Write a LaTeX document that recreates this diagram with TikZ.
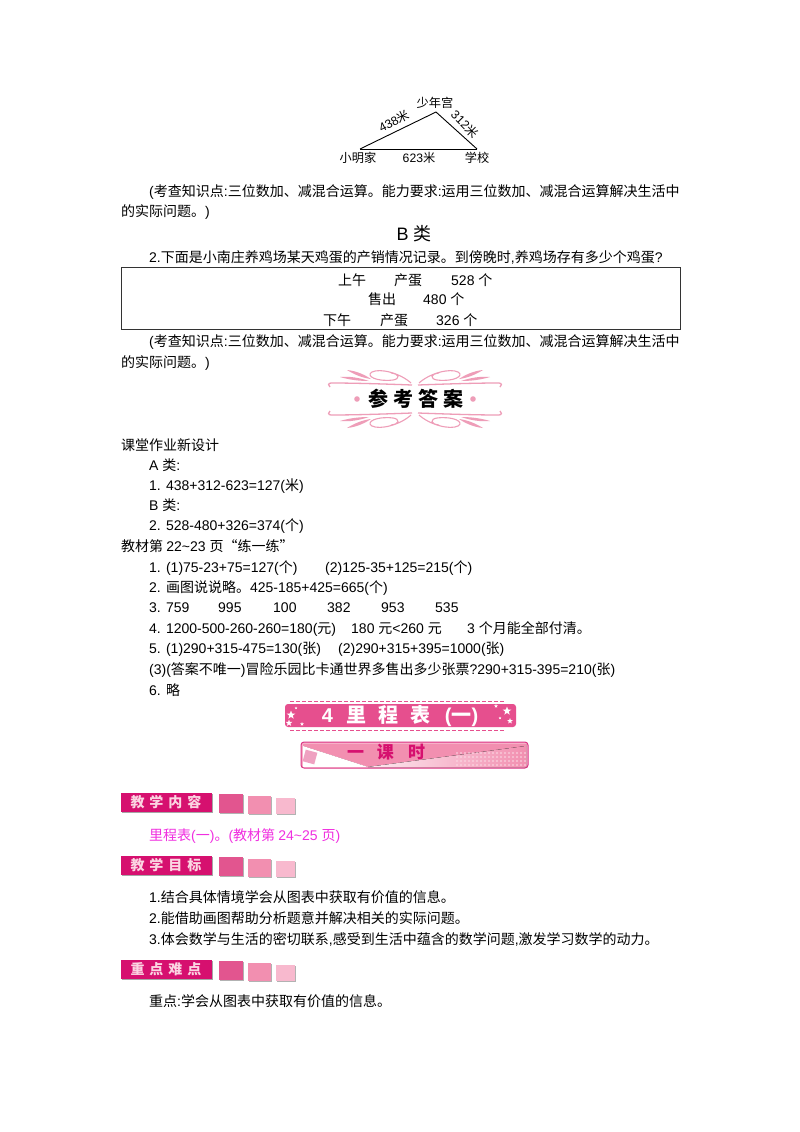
\documentclass[tikz,border=0pt]{standalone}
\usepackage{fontspec}
\usetikzlibrary{shapes.geometric}
\setmainfont{Liberation Sans}
\newfontfamily\cjk{Noto Sans CJK SC}
\newfontfamily\latn{Liberation Sans}
% switch to the CJK face on CJK characters
\XeTeXinterchartokenstate=1
\newXeTeXintercharclass\cjkclass
\newcount\cjkcode
\cjkcode="3000
\loop\ifnum\cjkcode<"A000 \XeTeXcharclass\cjkcode=\cjkclass \advance\cjkcode by 1 \repeat
\cjkcode="FF00
\loop\ifnum\cjkcode<"FFF0 \XeTeXcharclass\cjkcode=\cjkclass \advance\cjkcode by 1 \repeat
\XeTeXcharclass"201C=\cjkclass
\XeTeXcharclass"201D=\cjkclass
\XeTeXinterchartoks 0 \cjkclass={\cjk}
\XeTeXinterchartoks 4095 \cjkclass={\cjk}
\XeTeXinterchartoks \cjkclass 0 ={\latn}
\XeTeXinterchartoks 4095 0 ={\latn}
\definecolor{deeppink}{HTML}{D6106F}
\definecolor{rosepink}{HTML}{E2558F}
\definecolor{midpink}{HTML}{F28FB0}
\definecolor{palepink}{HTML}{F8B9CE}
\definecolor{bannerpink}{HTML}{E64F8E}
\definecolor{swirlpink}{HTML}{EE9DB8}
\definecolor{violetpink}{HTML}{F02FE0}

\begin{document}
\begin{tikzpicture}[x=1pt,y=-1pt,
    txt/.style = {anchor=west, inner sep=0pt, text height=12pt, text depth=2pt,
        font=\fontsize{14}{16}\selectfont},
    mid/.style = {txt, anchor=center},
    small/.style = {inner sep=0pt, font=\fontsize{12.2}{14}\selectfont},
    badge/.style = {inner sep=0pt, text=palepink!60!white, font=\fontsize{14}{16}\selectfont\bfseries},
    starry/.style = {star, star points=5, star point ratio=2.4, fill=white, inner sep=0pt}]
    \useasboundingbox (0,0) rectangle (800,1132);
    \fill[white] (0,0) rectangle (800,1132);

    % triangle
    \coordinate (home) at (360,149);
    \coordinate (palace) at (436,112);
    \coordinate (school) at (477,149);
    \node[small] (palaceText) at (435,103) {少年宫};
    \node[small] (homeText) at (358,158) {小明家};
    \node[small] (baseText) at (419,158) {623米};
    \node[small] (schoolText) at (477,158) {学校};
    \node[small,rotate=27] (leftText) at (394,121) {438米};
    \node[small,rotate=-45] (rightText) at (465,124) {312米};
    \draw[line width=0.9pt] (home) -- (palace);
    \draw[line width=0.9pt] (palace) -- (school);
    \draw[line width=0.9pt] (school) -- (home);

    \node[txt] (noteA) at (149,191) {(考查知识点:三位数加、减混合运算。能力要求:运用三位数加、减混合运算解决生活中};
    \node[txt] (noteB) at (121,211) {的实际问题。)};
    \node[mid,font=\fontsize{18}{20}\selectfont] (classB) at (414,235) {B 类};
    \node[txt] (task) at (149,257) {2.下面是小南庄养鸡场某天鸡蛋的产销情况记录。到傍晚时,养鸡场存有多少个鸡蛋?};

    % record table
    \draw[line width=0.8pt,black!80] (121,267) rectangle (680,329);
    \node[txt] (am) at (338,280) {上午};
    \node[txt] (amEgg) at (394,280) {产蛋};
    \node[txt] (amNum) at (451,280) {528 个};
    \node[txt] (sold) at (368,299) {售出};
    \node[txt] (soldNum) at (423,299) {480 个};
    \node[txt] (pm) at (323,320) {下午};
    \node[txt] (pmEgg) at (380,320) {产蛋};
    \node[txt] (pmNum) at (436,320) {326 个};

    \node[txt] (noteC) at (149,341) {(考查知识点:三位数加、减混合运算。能力要求:运用三位数加、减混合运算解决生活中};
    \node[txt] (noteD) at (121,362) {的实际问题。)};

    % answer banner
    \foreach \sx/\sy in {1/1,-1/1,1/-1,-1/-1} {
        \begin{scope}[shift={(415,399)},xscale=\sx,yscale=\sy,swirlpink]
            \draw[line width=1.3pt] (-3,-14) .. controls (-30,-15) and (-60,-16) .. (-84,-16) .. controls (-87,-16) and (-87,-13) .. (-85,-12);
            \draw[line width=1.1pt] (-4,-16) .. controls (-15,-26) and (-35,-31) .. (-43,-27) .. controls (-50,-23) and (-38,-17) .. (-22,-19) .. controls (-15,-20) and (-15,-25) .. (-24,-26);
            \fill (-68,-29) .. controls (-58,-28) and (-50,-24) .. (-44,-20) .. controls (-52,-21) and (-60,-24) .. cycle;
            \fill (-75,-22) .. controls (-65,-23) and (-55,-21) .. (-46,-18) .. controls (-55,-18) and (-65,-19) .. cycle;
        \end{scope}
    }
    \fill[swirlpink] (357,399) circle (2.8);
    \fill[swirlpink] (473,399) circle (2.8);
    \node[mid,font=\fontsize{20}{22}\selectfont\bfseries] (answer) at (416,401) {参\hspace{5pt}考\hspace{5pt}答\hspace{5pt}案};

    \node[txt] (design) at (121,445) {课堂作业新设计};
    \node[txt] (ansA) at (149,465) {A 类:};
    \node[txt] (ansOne) at (149,485) {1. 438+312-623=127(米)};
    \node[txt] (ansB) at (149,505) {B 类:};
    \node[txt] (ansTwo) at (149,525) {2. 528-480+326=374(个)};
    \node[txt] (book) at (121,546) {教材第 22\textasciitilde23 页“练一练”};
    \node[txt] (bookOne) at (149,567) {1. (1)75-23+75=127(个)};
    \node[txt] (bookOneB) at (325,567) {(2)125-35+125=215(个)};
    \node[txt] (bookTwo) at (149,587) {2. 画图说说略。425-185+425=665(个)};
    \node[txt] (bookThree) at (149,607) {3. 759};
    \node[txt] (numA) at (218,607) {995};
    \node[txt] (numB) at (273,607) {100};
    \node[txt] (numC) at (327,607) {382};
    \node[txt] (numD) at (381,607) {953};
    \node[txt] (numE) at (435,607) {535};
    \node[txt] (bookFour) at (149,628) {4. 1200-500-260-260=180(元)};
    \node[txt] (bookFourB) at (351,628) {180 元<260 元};
    \node[txt] (bookFourC) at (467,628) {3 个月能全部付清。};
    \node[txt] (bookFive) at (149,648) {5. (1)290+315-475=130(张)};
    \node[txt] (bookFiveB) at (338,648) {(2)290+315+395=1000(张)};
    \node[txt] (bookFiveC) at (149,669) {(3)(答案不唯一)冒险乐园比卡通世界多售出多少张票?290+315-395=210(张)};
    \node[txt] (bookSix) at (149,690) {6. 略};

    % unit title
    \fill[bannerpink,rounded corners=3pt] (285,704) rectangle (516,727);
    \draw[bannerpink,line width=1pt,dash pattern=on 4pt off 2pt] (290,701) -- (505,701);
    \draw[bannerpink,line width=1pt,dash pattern=on 4pt off 2pt] (290,730) -- (505,730);
    \foreach \i/\px/\py/\size in {1/291/715/9,2/289/723/7,3/302/724/4,4/296/708/3,5/507/711/9,6/510/721/6,6b/496/706/4,7/500/718/3} {
        \node[starry,minimum size=\size] (star\i) at (\px,\py) {};
    }
    \node[mid,text=white,font=\fontsize{20}{22}\selectfont\bfseries] (unit) at (400,717) {4\hspace{14pt}里\hspace{12pt}程\hspace{12pt}表\hspace{14pt}(一)};

    % lesson title
    \draw[deeppink!85,line width=1pt,rounded corners=3pt,fill=midpink!70] (301,742) rectangle (528,768);
    \fill[left color=midpink,middle color=palepink!35,right color=midpink] (303,744) -- (526,744) -- (526,746) -- (368,767) -- (303,746) -- cycle;
    \fill[white] (303,746) -- (368,767) -- (303,767) -- cycle;
    \fill[left color=palepink!30,right color=midpink] (368,767) -- (526,746) -- (526,767) -- cycle;
    \fill[rosepink!55,rotate around={-15:(310,757)}] (304,751) rectangle (316,763);
    \foreach \dx in {457,461,...,525} {
        \foreach \dy in {753,757,761,765} {
            \fill[white!70!midpink] (\dx,\dy) circle (0.8);
        }
    }
    \node[mid,text=deeppink,font=\fontsize{17}{19}\selectfont\bfseries] (lesson) at (386,753) {一\hspace{13pt}课\hspace{14pt}时};

    % section badges
    \foreach \name/\title/\py in {content/{教\hspace{5pt}学\hspace{5pt}内\hspace{5pt}容}/793, goal/{教\hspace{5pt}学\hspace{5pt}目\hspace{5pt}标}/856, key/{重\hspace{5pt}点\hspace{5pt}难\hspace{5pt}点}/960} {
        \fill[black!35] (122,\py+1) rectangle (213,\py+20);
        \fill[deeppink] (121,\py) rectangle (212,\py+19);
        \node[badge] (\name) at (166,\py+9.5) {\title};
        \fill[black!30] (220,\py+2) rectangle (244,\py+21);
        \fill[rosepink] (219,\py+1) rectangle (243,\py+20);
        \fill[black!30] (249,\py+4) rectangle (272,\py+22);
        \fill[midpink] (248,\py+3) rectangle (271,\py+21);
        \fill[black!30] (277,\py+6) rectangle (296,\py+22);
        \fill[palepink] (276,\py+5) rectangle (295,\py+21);
    }

    \node[txt,text=violetpink] (contentText) at (149,835) {里程表(一)。(教材第 24\textasciitilde25 页)};
    \node[txt] (goalOne) at (149,897) {1.结合具体情境学会从图表中获取有价值的信息。};
    \node[txt] (goalTwo) at (149,918) {2.能借助画图帮助分析题意并解决相关的实际问题。};
    \node[txt] (goalThree) at (149,939) {3.体会数学与生活的密切联系,感受到生活中蕴含的数学问题,激发学习数学的动力。};
    \node[txt] (keyText) at (149,1001) {重点:学会从图表中获取有价值的信息。};
\end{tikzpicture}
\end{document}
